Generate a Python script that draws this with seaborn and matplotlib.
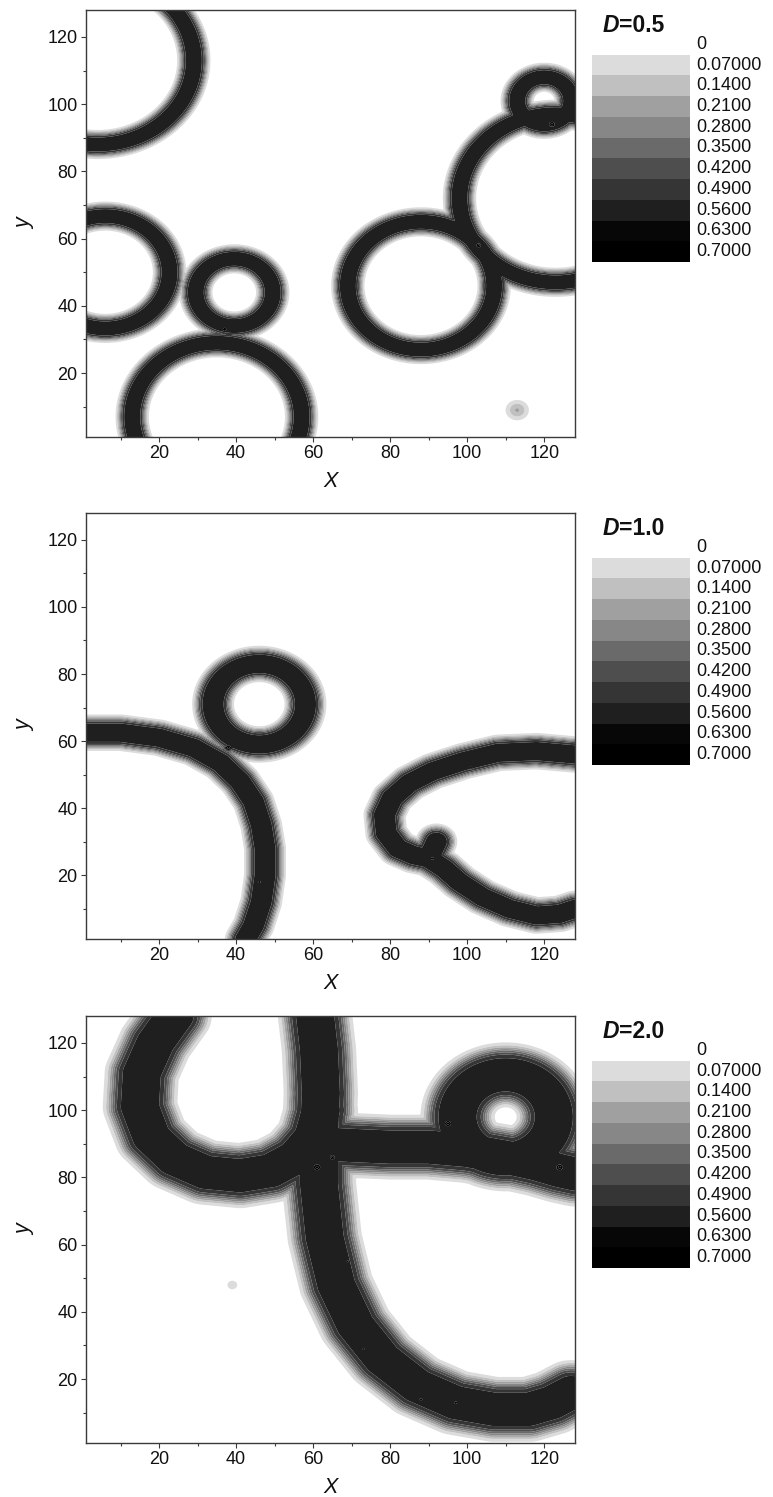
import numpy as np
import matplotlib
matplotlib.use("Agg")
import matplotlib.pyplot as plt
import matplotlib.transforms as mtrans
from matplotlib.ticker import MultipleLocator
import seaborn as sns

sns.set_theme(style="ticks")
plt.rcParams['font.family'] = ['Liberation Sans', 'DejaVu Sans']

# ---------------- data ----------------
level_values = [0, 0.07, 0.14, 0.21, 0.28, 0.35, 0.42, 0.49, 0.56, 0.63, 0.70]
level_labels = ["0", "0.07000", "0.1400", "0.2100", "0.2800", "0.3500",
                "0.4200", "0.4900", "0.5600", "0.6300", "0.7000"]
level_colors = ["#ffffff", "#dcdcdc", "#c0c0c0", "#a0a0a0", "#878787", "#6a6a6a",
                "#4e4e4e", "#353535", "#1f1f1f", "#070707", "#000000"]
panel_D = ["0.5", "1.0", "2.0"]
x_ticks = [20, 40, 60, 80, 100, 120]
y_ticks = [20, 40, 60, 80, 100, 120]

# panel 1 (D=0.5): ring centres / radii
p1_ring_cx = [4, 6, 39.5, 35, 88, 123, 120]
p1_ring_cy = [113, 50, 44, 7, 46, 72, 101]
p1_ring_r = [25, 16.7, 10, 22, 19, 25, 7]
p1_blob_x = [113, 122, 103, 37]
p1_blob_y = [9, 94, 58, 33]
p1_blob_amp = [0.22, 0.72, 0.72, 0.70]
p1_blob_size = [2.0, 1.4, 1.1, 1.0]
p1_band = (3.3, 0.5)   # half width, softness

# panel 2 (D=1.0)
p2_ring_cx = [46]
p2_ring_cy = [71]
p2_ring_r = [12]
p2_pathI_x = [1, 10, 20, 29, 36, 41, 44.5, 46.5, 47.5, 47.5, 46.5, 44.5, 42.5]
p2_pathI_y = [62.5, 62.5, 61, 58, 53.5, 48, 42, 35, 28, 20, 12, 5, 1]
p2_pathJ_x = [128, 118, 108, 99, 91, 85, 80.5, 78.5, 79, 82, 86, 90, 94, 98, 104, 111, 118, 124, 128]
p2_pathJ_y = [56, 57, 56.5, 54, 51, 47.5, 43, 38, 32.5, 28, 26, 25, 22, 18, 13.5, 10, 8, 8.5, 10]
p2_pathT_x = [90, 92]
p2_pathT_y = [25, 30]
p2_blob_x = [38, 46, 91, 101]
p2_blob_y = [58, 18, 25, 52]
p2_blob_amp = [0.72, 0.70, 0.70, 0.70]
p2_blob_size = [1.3, 0.7, 0.8, 0.7]
p2_band = (4.2, 0.6)

# panel 3 (D=2.0)
p3_ring_cx = [110]
p3_ring_cy = [98]
p3_ring_r = [12.5]
p3_pathK_x = [24, 19, 15.5, 15, 18, 24, 32, 41, 49, 55.5, 60, 62]
p3_pathK_y = [128, 120, 111, 101, 92, 85.5, 81.5, 80.5, 82, 86, 92, 100]
p3_pathM_x = [60.5, 61.5, 62, 61.5, 61.5, 63, 66, 71, 78, 87, 97, 107, 116, 122, 127]
p3_pathM_y = [128, 118, 105, 92, 78, 62, 48, 36, 26, 18, 13, 11, 11, 13, 16]
p3_pathT_x = [61.5, 70, 80, 90, 100, 110, 118, 124, 128]
p3_pathT_y = [90, 89.5, 89, 89, 88, 86, 84, 82, 81]
p3_blob_x = [39, 61, 65, 95, 124, 73, 88, 97, 69]
p3_blob_y = [48, 83, 86, 96, 83, 29, 14, 13, 55]
p3_blob_amp = [0.1, 0.72, 0.72, 0.72, 0.72, 0.70, 0.70, 0.70, 0.70]
p3_blob_size = [1.5, 1.6, 1.2, 1.5, 1.6, 0.7, 0.7, 0.8, 0.6]
p3_band = (7.5, 1.05)

VMAX = 0.61

# ---------------- field construction ----------------
xg = np.linspace(1, 128, 512)
yg = np.linspace(1, 128, 512)
X, Y = np.meshgrid(xg, yg)


def band_value(d, band):
    h, s = band
    return VMAX / (1.0 + np.exp((d - h) / s))


def ring_dist(cx, cy, r):
    return np.abs(np.hypot(X - cx, Y - cy) - r)


def path_dist(px, py):
    d = np.full(X.shape, np.inf)
    for i in range(len(px) - 1):
        ax_, ay_ = px[i], py[i]
        bx_, by_ = px[i + 1], py[i + 1]
        vx, vy = bx_ - ax_, by_ - ay_
        L2 = vx * vx + vy * vy
        t = np.clip(((X - ax_) * vx + (Y - ay_) * vy) / L2, 0, 1)
        dd = np.hypot(X - (ax_ + t * vx), Y - (ay_ + t * vy))
        d = np.minimum(d, dd)
    return d


def build(rings, paths, blobs, band):
    Z = np.zeros(X.shape)
    for cx, cy, r in zip(*rings):
        Z = np.maximum(Z, band_value(ring_dist(cx, cy, r), band))
    for px, py in paths:
        Z = np.maximum(Z, band_value(path_dist(px, py), band))
    for bx, by, a, s in zip(*blobs):
        Z = np.maximum(Z, a * np.exp(-((X - bx) ** 2 + (Y - by) ** 2) / (2 * s * s)))
    return Z


Z1 = build((p1_ring_cx, p1_ring_cy, p1_ring_r), [],
           (p1_blob_x, p1_blob_y, p1_blob_amp, p1_blob_size), p1_band)
Z2 = build((p2_ring_cx, p2_ring_cy, p2_ring_r),
           [(p2_pathI_x, p2_pathI_y), (p2_pathJ_x, p2_pathJ_y), (p2_pathT_x, p2_pathT_y)],
           (p2_blob_x, p2_blob_y, p2_blob_amp, p2_blob_size), p2_band)
Z3 = build((p3_ring_cx, p3_ring_cy, p3_ring_r),
           [(p3_pathK_x, p3_pathK_y), (p3_pathM_x, p3_pathM_y), (p3_pathT_x, p3_pathT_y)],
           (p3_blob_x, p3_blob_y, p3_blob_amp, p3_blob_size), p3_band)
fields = [Z1, Z2, Z3]

# ---------------- layout ----------------
W, H = 773, 1497
fig = plt.figure(figsize=(W / 100, H / 100), dpi=100)


def rect(l, t, r, b):
    return [l / W, 1 - b / H, (r - l) / W, (b - t) / H]


panel_tops = [10, 513, 1016]
panel_bots = [437, 939, 1443]
bounds = level_values + [1.0]
spine_c = "#3a3a3a"
txt_c = "#111111"

for k in range(3):
    ax = fig.add_axes(rect(86, panel_tops[k], 575, panel_bots[k]))
    ax.contourf(xg, yg, fields[k], levels=bounds, colors=level_colors, antialiased=True)
    ax.set_xlim(1, 128)
    ax.set_ylim(1, 128)
    ax.set_xticks(x_ticks)
    ax.set_yticks(y_ticks)
    ax.xaxis.set_minor_locator(MultipleLocator(10))
    ax.yaxis.set_minor_locator(MultipleLocator(10))
    ax.tick_params(which="major", direction="out", length=3.6, width=0.8,
                   color=spine_c, labelsize=13, pad=2.5, labelcolor=txt_c)
    ax.tick_params(which="minor", direction="out", length=2.0, width=0.8, color=spine_c)
    for sp in ax.spines.values():
        sp.set_visible(True)
        sp.set_color(spine_c)
        sp.set_linewidth(1.0)
    ax.set_xlabel("X", fontsize=15.5, fontstyle="italic", labelpad=6, color=txt_c)
    ax.set_ylabel("y", fontsize=15.5, fontstyle="italic", labelpad=9, color=txt_c)

    # legend (level key)
    top = panel_tops[k]
    lax = fig.add_axes(rect(592, top + 24, 690, top + 252))
    lax.barh(np.arange(len(level_colors)), np.ones(len(level_colors)), height=1.0,
             left=0, color=level_colors, edgecolor="none")
    lax.set_xlim(0, 1)
    lax.set_ylim(len(level_colors) - 0.5, -0.5)
    lax.axis("off")
    tr = mtrans.blended_transform_factory(lax.transAxes, lax.transData)
    for i, lab in enumerate(level_labels):
        lax.text(1.06, i, lab, transform=tr, ha="left", va="center",
                 fontsize=13, color=txt_c, clip_on=False)
    t1 = lax.text(0.11, -0.62, "D", transform=tr, ha="left", va="baseline",
                  fontsize=16.5, fontstyle="italic", fontweight="bold", color=txt_c)
    lax.annotate("=" + panel_D[k], xy=(1, 0), xycoords=t1, ha="left", va="bottom",
                 fontsize=16.5, fontweight="bold", color=txt_c)

fig.savefig("out.png", dpi=100)
